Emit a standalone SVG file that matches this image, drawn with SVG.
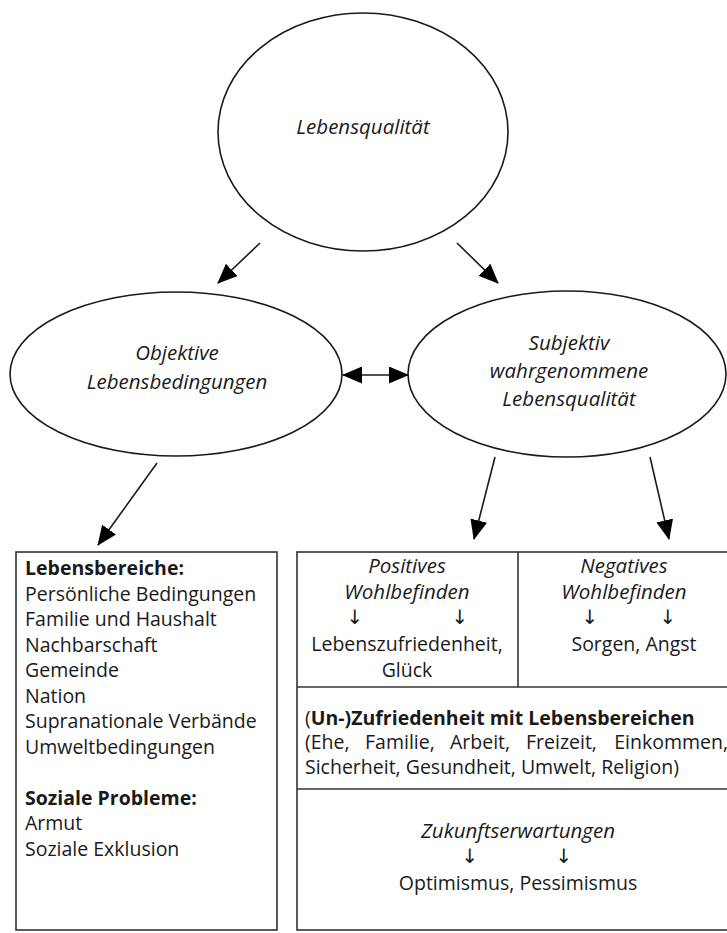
<svg xmlns="http://www.w3.org/2000/svg" width="727" height="933" viewBox="0 0 727 933">
<defs>
<style>
text{font-family:"Open Sans","DejaVu Sans",sans-serif;font-size:19.5px;fill:#1a1a1a}
.it{font-style:italic;font-size:20.5px}
.b{font-weight:bold}
.m{text-anchor:middle}
.e{text-anchor:end}
.node{fill:#fff;stroke:#1a1a1a;stroke-width:1.6}
.box{fill:#fff;stroke:#333;stroke-width:1.6}
.conn{stroke:#1a1a1a;stroke-width:1.6;fill:none}
.arr{font-family:"DejaVu Sans",sans-serif;font-size:20px;font-weight:normal}
</style>
<marker id="ah" markerUnits="userSpaceOnUse" markerWidth="20" markerHeight="17" viewBox="0 0 20 17" refX="19" refY="8.5" orient="auto-start-reverse">
<path d="M0,0 L20,8.5 L0,17 z" fill="#000"/>
</marker>
</defs>
<g id="lebensqualitaet">
<ellipse class="node" cx="363" cy="132" rx="145" ry="119"/>
<text class="it m" x="363" y="134">Lebensqualität</text>
</g>
<g id="objektive">
<ellipse class="node" cx="176" cy="374" rx="166" ry="82"/>
<text class="it m" x="177" y="360">Objektive</text>
<text class="it m" x="177" y="389">Lebensbedingungen</text>
</g>
<g id="subjektiv">
<ellipse class="node" cx="567" cy="374" rx="159" ry="83"/>
<text class="it m" x="569" y="350">Subjektiv</text>
<text class="it m" x="569" y="378">wahrgenommene</text>
<text class="it m" x="569" y="406">Lebensqualität</text>
</g>
<g id="lebensbereiche">
<rect class="box" x="16" y="552" width="261" height="378"/>
<text class="b" x="25" y="575">Lebensbereiche:</text>
<text x="25" y="600.5">Persönliche Bedingungen</text>
<text x="25" y="626">Familie und Haushalt</text>
<text x="25" y="651.5">Nachbarschaft</text>
<text x="25" y="677">Gemeinde</text>
<text x="25" y="702.5">Nation</text>
<text x="25" y="728">Supranationale Verbände</text>
<text x="25" y="753.5">Umweltbedingungen</text>
<text class="b" x="25" y="804.5">Soziale Probleme:</text>
<text x="25" y="830">Armut</text>
<text x="25" y="855.5">Soziale Exklusion</text>
</g>
<g id="subjektiv-box">
<rect class="box" x="297" y="552" width="445" height="378"/>
<line class="box" x1="518" y1="552" x2="518" y2="687"/>
<line class="box" x1="297" y1="687" x2="742" y2="687"/>
<line class="box" x1="297" y1="789" x2="742" y2="789"/>
</g>
<g id="positives">
<text class="it m" x="407" y="573">Positives</text>
<text class="it m" x="407" y="599">Wohlbefinden</text>
<text class="arr m" x="355" y="624">↓</text>
<text class="arr m" x="460" y="624">↓</text>
<text class="m" x="407" y="651">Lebenszufriedenheit,</text>
<text class="m" x="407" y="677">Glück</text>
</g>
<g id="negatives">
<text class="it m" x="624" y="573">Negatives</text>
<text class="it m" x="624" y="599">Wohlbefinden</text>
<text class="arr m" x="590" y="624">↓</text>
<text class="arr m" x="668" y="624">↓</text>
<text class="m" x="634" y="651">Sorgen, Angst</text>
</g>
<g id="zufriedenheit">
<text x="305" y="725">(<tspan class="b">Un-)Zufriedenheit mit Lebensbereichen</tspan></text>
<text x="305" y="749.3">(Ehe,</text>
<text x="365" y="749.3">Familie,</text>
<text x="450" y="749.3">Arbeit,</text>
<text x="526" y="749.3">Freizeit,</text>
<text class="e" x="728" y="749.3">Einkommen,</text>
<text x="305" y="773.5">Sicherheit, Gesundheit, Umwelt, Religion)</text>
</g>
<g id="zukunft">
<text class="it m" x="518" y="838">Zukunftserwartungen</text>
<text class="arr m" x="470" y="863">↓</text>
<text class="arr m" x="564" y="863">↓</text>
<text class="m" x="518" y="890">Optimismus, Pessimismus</text>
</g>
<g id="connectors">
<line class="conn" x1="260" y1="243" x2="218" y2="283" marker-end="url(#ah)"/>
<line class="conn" x1="457" y1="243" x2="498" y2="283" marker-end="url(#ah)"/>
<line class="conn" x1="343" y1="375" x2="408" y2="375" marker-start="url(#ah)" marker-end="url(#ah)"/>
<line class="conn" x1="157" y1="463" x2="98" y2="545" marker-end="url(#ah)"/>
<line class="conn" x1="495" y1="457" x2="474" y2="539" marker-end="url(#ah)"/>
<line class="conn" x1="650" y1="457" x2="669" y2="539" marker-end="url(#ah)"/>
</g>
</svg>
